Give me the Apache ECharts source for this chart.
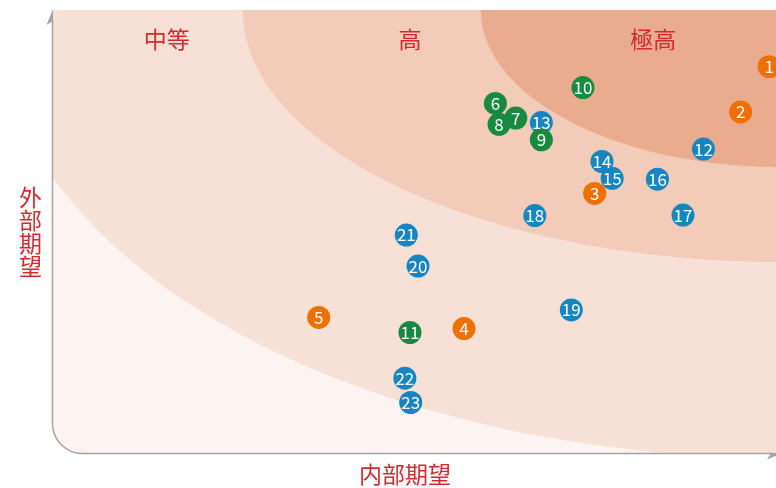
<!DOCTYPE html>
<html>
<head>
<meta charset="utf-8">
<title>期望矩阵</title>
<script src="https://cdn.jsdelivr.net/npm/echarts@6/dist/echarts.min.js"></script>
<style>
    html, body { margin: 0; padding: 0; background: #fff; }
    #main { width: 776px; height: 488px; }
</style>
</head>
<body>
<div id="main"></div>
<script type="text/javascript">
// zone titles along the top, axis names
var zoneNames = ['中等', '高', '極高'];
var xName = '内部期望';
var yName = '外部期望';

// zones are quarter ellipses around the top-right corner (radii in axis units)
var zoneRadiusX = [107.8, 74, 41.4];
var zoneRadiusY = [101.1, 56.9, 35.5];

// [内部期望, 外部期望, 编号]
var bluePoints = [
    [89.1, 68.6, 12], [66.9, 74.6, 13], [75.2, 65.8, 14], [76.6, 62.0, 15],
    [82.8, 61.8, 16], [86.3, 53.7, 17], [66.0, 53.6, 18], [71.0, 32.3, 19],
    [50.0, 42.2, 20], [48.4, 49.2, 21], [48.2, 16.9, 22], [49.0, 11.4, 23]
];
var greenPoints = [
    [60.6, 78.9, 6], [61.1, 74.2, 8], [63.4, 75.6, 7], [66.9, 70.7, 9],
    [72.6, 82.5, 10], [48.9, 27.2, 11]
];
var orangePoints = [
    [98.1, 87.2, 1], [94.2, 77.0, 2], [74.2, 58.6, 3], [56.3, 28.1, 4], [36.4, 30.6, 5]
];

var zoneColors = ['#fdf3f0', '#f7e1d6', '#f2cbb9', '#e9ac8e'];
var axisGray = '#a3a3a3';
var red = '#d7282f';

var chart = echarts.init(document.getElementById('main'));

function renderBackground(params, api) {
    var cs = params.coordSys;
    var x0 = cs.x, y0 = cs.y, x1 = cs.x + cs.width, y1 = cs.y + cs.height;
    var corner = api.coord([100, 100]);
    var fills = [{
        type: 'rect',
        shape: { x: x0, y: y0, width: cs.width, height: cs.height },
        style: { fill: zoneColors[0] }
    }];
    for (var i = 0; i < zoneRadiusX.length; i++) {
        var r = api.size([zoneRadiusX[i], zoneRadiusY[i]]);
        fills.push({
            type: 'ellipse',
            shape: { cx: corner[0], cy: corner[1], rx: r[0], ry: r[1] },
            style: { fill: zoneColors[i + 1] }
        });
    }
    var rad = 30;
    var lx = x0 - 0.5, by = y1 + 0.5;
    var path = 'M' + lx + ' ' + (y0 + 10) + ' L' + lx + ' ' + (by - rad) +
        ' A' + rad + ' ' + rad + ' 0 0 0 ' + (lx + rad) + ' ' + by +
        ' L' + (x1 - 10) + ' ' + by;
    return {
        type: 'group',
        children: [{
            type: 'group',
            children: fills,
            clipPath: {
                type: 'rect',
                shape: { x: x0, y: y0, width: cs.width, height: cs.height, r: [0, 0, 0, rad] }
            }
        }, {
            type: 'path',
            shape: { pathData: path },
            style: { fill: 'none', stroke: axisGray, lineWidth: 1.5 }
        }, {
            type: 'polygon',
            shape: { points: [[x0, y0 - 1], [x0 - 6.5, y0 + 15], [x0, y0 + 11]] },
            style: { fill: axisGray }
        }, {
            type: 'polygon',
            shape: { points: [[x1, y1], [x1 - 16, y1 + 6.5], [x1 - 12, y1]] },
            style: { fill: axisGray }
        }]
    };
}

function pointSeries(data, color) {
    return {
        type: 'scatter',
        data: data,
        symbolSize: 23,
        itemStyle: { color: color, opacity: 1 },
        label: {
            show: true,
            position: 'inside',
            color: '#fff',
            fontSize: 17,
            fontFamily: 'Noto Sans CJK SC',
            formatter: function (p) { return p.value[2]; }
        }
    };
}

var option = {
    animation: false,
    // plot runs a little past the right edge of the canvas
    grid: { left: 53, top: 10, width: 730, height: 443, outerBoundsMode: 'none', containLabel: false },
    xAxis: [{
        type: 'value', min: 0, max: 100,
        name: xName,
        nameLocation: 'middle',
        nameGap: 10,
        nameTextStyle: { color: red, fontSize: 23, fontFamily: 'Noto Sans CJK SC', padding: [0, 26, 0, 0] },
        axisLine: { show: false }, axisTick: { show: false },
        axisLabel: { show: false }, splitLine: { show: false }
    }, {
        type: 'category',
        position: 'top',
        data: zoneNames,
        z: 10,
        axisLine: { show: false }, axisTick: { show: false }, splitLine: { show: false },
        axisLabel: {
            inside: true, margin: 18, color: red, fontSize: 23,
            fontFamily: 'Noto Sans CJK SC', padding: [0, 16, 0, 0]
        }
    }],
    yAxis: {
        type: 'value', min: 0, max: 100,
        name: yName.split('').join('\n'),
        nameLocation: 'middle',
        nameRotate: 0,
        nameGap: 11,
        nameTextStyle: { color: red, fontSize: 23, lineHeight: 23, fontFamily: 'Noto Sans CJK SC', padding: [0, 0, 12, 0] },
        axisLine: { show: false }, axisTick: { show: false },
        axisLabel: { show: false }, splitLine: { show: false }
    },
    series: [{
        type: 'custom',
        silent: true,
        z: 1,
        data: [[100, 100]],
        renderItem: renderBackground
    },
        pointSeries(bluePoints, '#1685c1'),
        pointSeries(greenPoints, '#178a3f'),
        pointSeries(orangePoints, '#ee7000')
    ]
};

chart.setOption(option);
</script>
</body>
</html>
